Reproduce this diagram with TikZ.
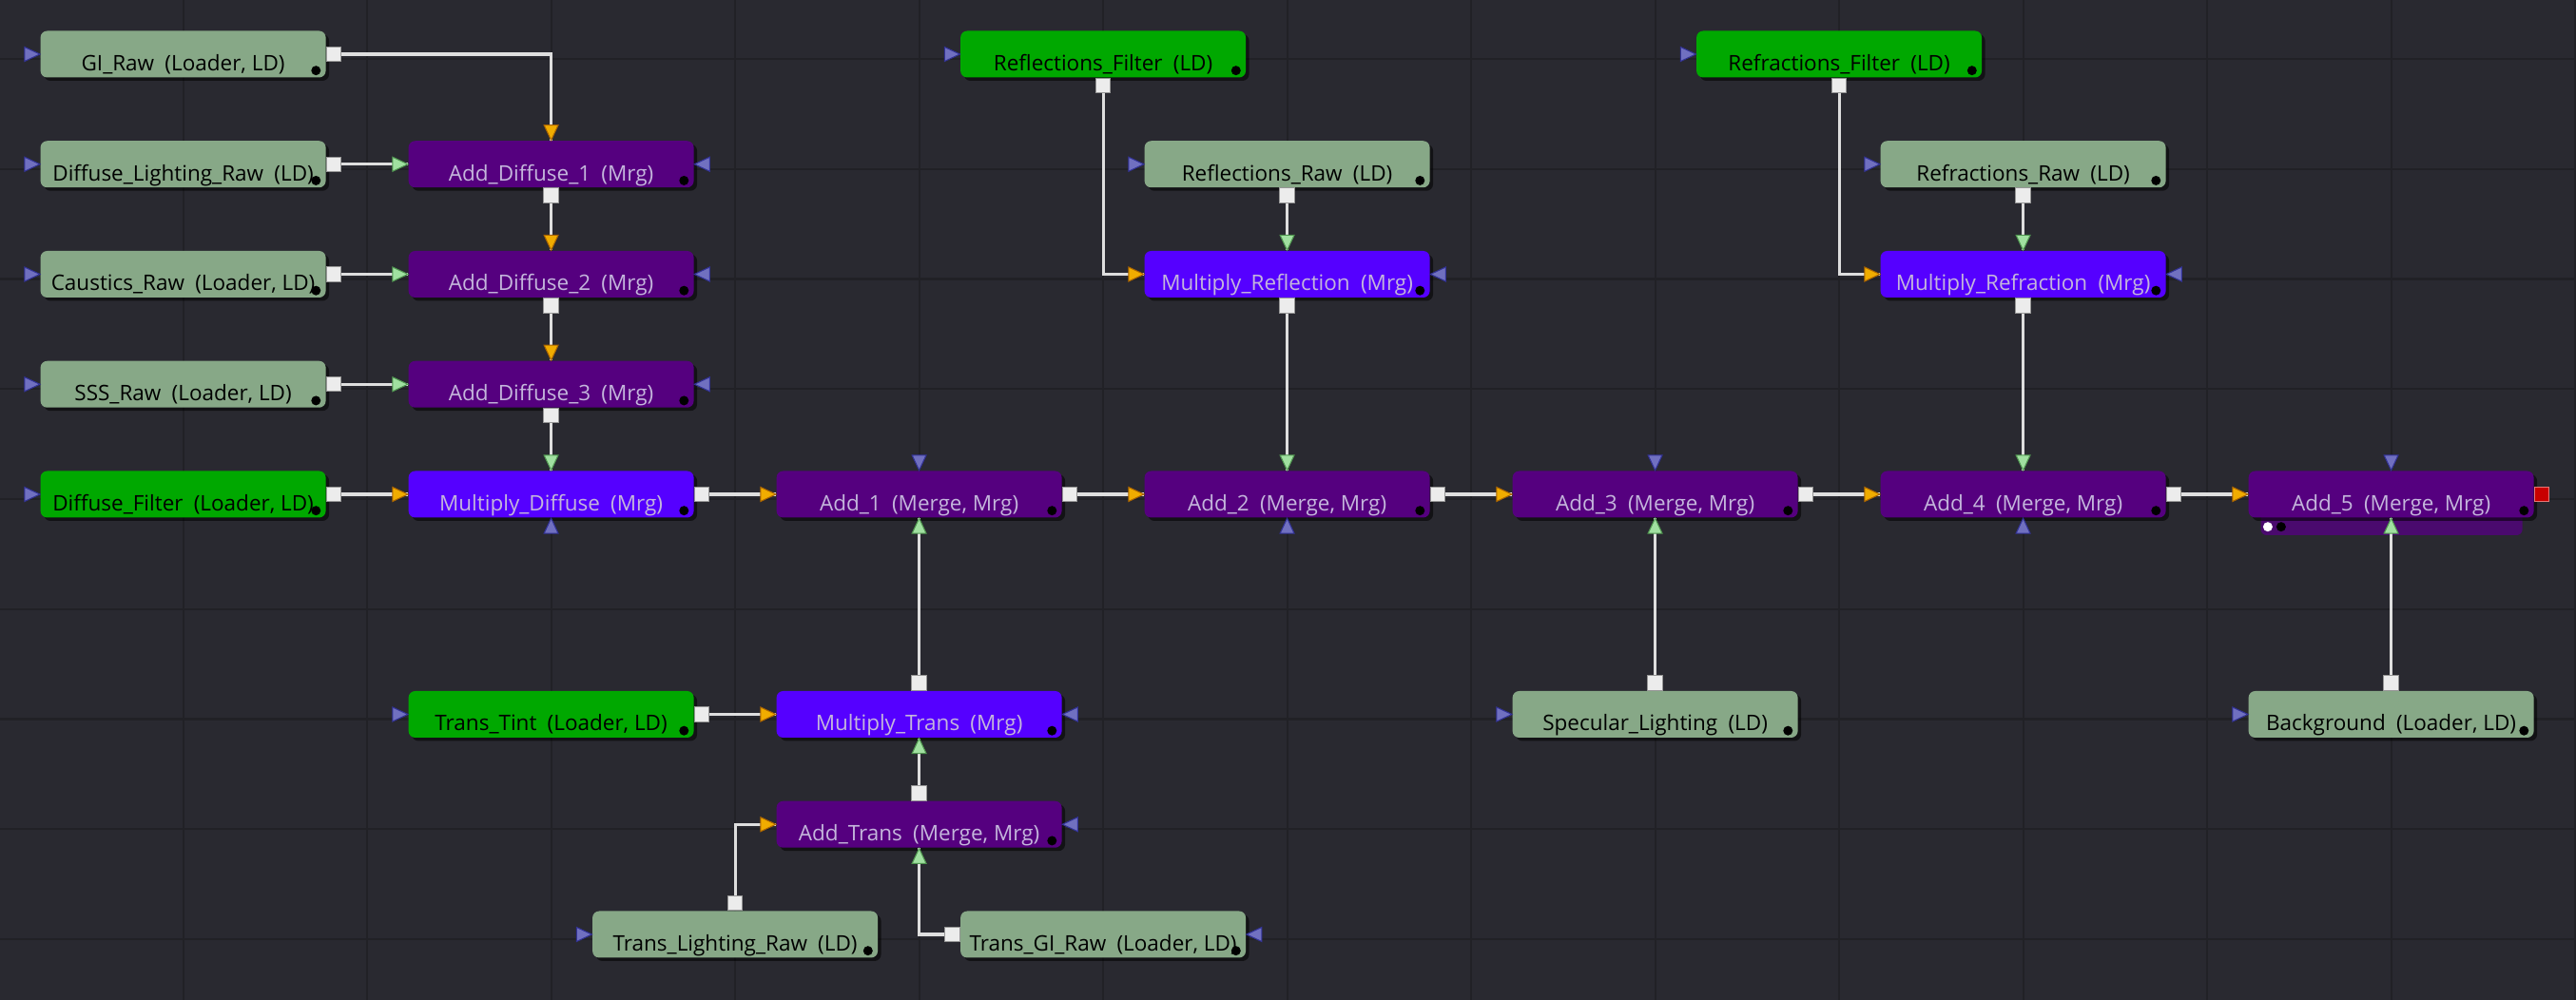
\documentclass[tikz,border=0pt]{standalone}
\usepackage{fontspec}
\setmainfont{Open Sans}
\usetikzlibrary{calc,shadows}

\definecolor{bgcol}{RGB}{41,41,48}
\definecolor{gridcol}{RGB}{33,33,38}
\definecolor{loadcol}{RGB}{135,168,135}
\definecolor{filtcol}{RGB}{0,168,0}
\definecolor{mrgcol}{RGB}{85,0,127}
\definecolor{multcol}{RGB}{85,0,255}
\definecolor{mrgtext}{RGB}{196,182,220}
\definecolor{wirecol}{RGB}{222,222,222}
\definecolor{sqcol}{RGB}{236,236,236}
\definecolor{sqedge}{RGB}{150,150,150}
\definecolor{fgcol}{RGB}{160,224,160}
\definecolor{fgedge}{RGB}{80,150,80}
\definecolor{bgincol}{RGB}{240,172,0}
\definecolor{bginedge}{RGB}{170,100,0}
\definecolor{maskcol}{RGB}{112,112,192}
\definecolor{maskedge}{RGB}{50,50,150}
\definecolor{stripcol}{RGB}{74,10,110}
\definecolor{redsq}{RGB}{200,0,0}
\definecolor{rededge}{RGB}{230,120,120}

\newcommand{\inport}[3]{\filldraw[#3, shift={(#1)}, rotate=#2] (0,0) -- (-0.16cm,0.075cm) -- (-0.16cm,-0.075cm) -- cycle;}
\newcommand{\outport}[3][outsq]{\filldraw[#1, shift={(#2)}, rotate=#3] (0,-0.077cm) rectangle (0.155cm,0.077cm);}
\newcommand{\nm}[2]{#1\hspace{0.5em}(#2)}

\begin{document}
\begin{tikzpicture}[x=1.935cm, y=1.1575cm,
    tool/.style={rounded corners=0.07cm, minimum width=3cm, inner xsep=0pt, inner ysep=0pt,
        text height=0.42cm, text depth=0.07cm, font=\fontsize{6.4}{7}\selectfont,
        drop shadow={shadow xshift=0.035cm, shadow yshift=-0.035cm, fill=black, opacity=0.55}},
    loader/.style={tool, fill=loadcol, text=black},
    filter/.style={tool, fill=filtcol, text=black},
    merge/.style={tool, fill=mrgcol, text=mrgtext},
    mult/.style={tool, fill=multcol, text=mrgtext},
    wire/.style={draw=wirecol, line width=0.9pt},
    gridline/.style={draw=gridcol, line width=0.6pt},
    outsq/.style={fill=sqcol, draw=sqedge, line width=0.3pt},
    redport/.style={fill=redsq, draw=rededge, line width=0.3pt},
    fgport/.style={fill=fgcol, draw=fgedge, line width=0.3pt},
    bgport/.style={fill=bgincol, draw=bginedge, line width=0.3pt},
    mkport/.style={fill=maskcol, draw=maskedge, line width=0.3pt}]

    \useasboundingbox (-1.926cm,0.57cm) rectangle ++(27.09cm,-10.52cm);
    \fill[bgcol] (-1.926cm,0.57cm) rectangle ++(27.09cm,-10.52cm);   % canvas
    \foreach \j in {0,...,13} \draw[gridline] (\j,0) ++(0,0.57cm) -- ++(0,-10.52cm);
    \foreach \k in {0,...,8} \draw[gridline] (0,-\k) ++(-1.926cm,-0.05cm) -- ++(27.09cm,0);

    % extra strip under Add_5
    \fill[stripcol, rounded corners=0.06cm] ($(12,-4)+(-1.37cm,-0.2cm)$) -- ($(12,-4)+(-1.37cm,-0.43cm)$)
        -- ($(12,-4)+(1.38cm,-0.43cm)$) -- ($(12,-4)+(1.38cm,-0.2cm)$) -- cycle;

    % diffuse branch
    \node[loader] (gi) at (0,0) {\nm{GI\_Raw}{Loader, LD}};
    \node[loader] (dlight) at (0,-1) {\nm{Diffuse\_Lighting\_Raw}{LD}};
    \node[loader] (caus) at (0,-2) {\nm{Caustics\_Raw}{Loader, LD}};
    \node[loader] (sss) at (0,-3) {\nm{SSS\_Raw}{Loader, LD}};
    \node[filter] (dfilt) at (0,-4) {\nm{Diffuse\_Filter}{Loader, LD}};
    \node[merge] (ad1) at (2,-1) {\nm{Add\_Diffuse\_1}{Mrg}};
    \node[merge] (ad2) at (2,-2) {\nm{Add\_Diffuse\_2}{Mrg}};
    \node[merge] (ad3) at (2,-3) {\nm{Add\_Diffuse\_3}{Mrg}};
    \node[mult] (mdiff) at (2,-4) {\nm{Multiply\_Diffuse}{Mrg}};

    % main line
    \node[merge] (add1) at (4,-4) {\nm{Add\_1}{Merge, Mrg}};
    \node[merge] (add2) at (6,-4) {\nm{Add\_2}{Merge, Mrg}};
    \node[merge] (add3) at (8,-4) {\nm{Add\_3}{Merge, Mrg}};
    \node[merge] (add4) at (10,-4) {\nm{Add\_4}{Merge, Mrg}};
    \node[merge] (add5) at (12,-4) {\nm{Add\_5}{Merge, Mrg}};

    % reflections / refractions
    \node[filter] (rflfilt) at (5,0) {\nm{Reflections\_Filter}{LD}};
    \node[loader] (rflraw) at (6,-1) {\nm{Reflections\_Raw}{LD}};
    \node[mult] (mrfl) at (6,-2) {\nm{Multiply\_Reflection}{Mrg}};
    \node[filter] (rfrfilt) at (9,0) {\nm{Refractions\_Filter}{LD}};
    \node[loader] (rfrraw) at (10,-1) {\nm{Refractions\_Raw}{LD}};
    \node[mult] (mrfr) at (10,-2) {\nm{Multiply\_Refraction}{Mrg}};

    % translucency, specular, background
    \node[filter] (ttint) at (2,-6) {\nm{Trans\_Tint}{Loader, LD}};
    \node[mult] (mtrans) at (4,-6) {\nm{Multiply\_Trans}{Mrg}};
    \node[merge] (atrans) at (4,-7) {\nm{Add\_Trans}{Merge, Mrg}};
    \node[loader] (tlight) at (3,-8) {\nm{Trans\_Lighting\_Raw}{LD}};
    \node[loader] (tgi) at (5,-8) {\nm{Trans\_GI\_Raw}{Loader, LD}};
    \node[loader] (spec) at (8,-6) {\nm{Specular\_Lighting}{LD}};
    \node[loader] (bgnd) at (12,-6) {\nm{Background}{Loader, LD}};

    \foreach \n in {gi,dlight,caus,sss,dfilt,ad1,ad2,ad3,mdiff,add1,add2,add3,add4,add5,
        rflfilt,rflraw,mrfl,rfrfilt,rfrraw,mrfr,ttint,mtrans,atrans,tlight,tgi,spec,bgnd}
        \fill[black] ($(\n.south east)+(-0.11cm,0.08cm)$) circle (0.05cm);
    \fill[white] ($(add5.south west)+(0.21cm,-0.09cm)$) circle (0.05cm);
    \fill[black] ($(add5.south west)+(0.35cm,-0.09cm)$) circle (0.05cm);

    % wires
    \draw[wire] (gi.east) -| (ad1.north);
    \draw[wire] (dlight.east) -- (ad1.west);
    \draw[wire] (caus.east) -- (ad2.west);
    \draw[wire] (sss.east) -- (ad3.west);
    \draw[wire] (dfilt.east) -- (mdiff.west);
    \draw[wire] (ad1.south) -- (ad2.north);
    \draw[wire] (ad2.south) -- (ad3.north);
    \draw[wire] (ad3.south) -- (mdiff.north);
    \draw[wire] (mdiff.east) -- (add1.west);
    \draw[wire] (add1.east) -- (add2.west);
    \draw[wire] (add2.east) -- (add3.west);
    \draw[wire] (add3.east) -- (add4.west);
    \draw[wire] (add4.east) -- (add5.west);
    \draw[wire] (rflfilt.south) |- (mrfl.west);
    \draw[wire] (rflraw.south) -- (mrfl.north);
    \draw[wire] (mrfl.south) -- (add2.north);
    \draw[wire] (rfrfilt.south) |- (mrfr.west);
    \draw[wire] (rfrraw.south) -- (mrfr.north);
    \draw[wire] (mrfr.south) -- (add4.north);
    \draw[wire] (ttint.east) -- (mtrans.west);
    \draw[wire] (mtrans.north) -- (add1.south);
    \draw[wire] (atrans.north) -- (mtrans.south);
    \draw[wire] (tlight.north) |- (atrans.west);
    \draw[wire] (tgi.west) -| (atrans.south);
    \draw[wire] (spec.north) -- (add3.south);
    \draw[wire] (bgnd.north) -- (add5.south);

    % loader inputs and outputs
    \foreach \n in {gi,dlight,caus,sss,dfilt,rflfilt,rflraw,rfrfilt,rfrraw,ttint,tlight,spec,bgnd}
        \inport{\n.west}{0}{mkport};
    \inport{tgi.east}{180}{mkport}
    \foreach \n in {gi,dlight,caus,sss,dfilt,ttint} \outport{\n.east}{0};
    \foreach \n in {rflfilt,rflraw,rfrfilt,rfrraw} \outport{\n.south}{-90};
    \foreach \n in {tlight,spec,bgnd} \outport{\n.north}{90};
    \outport{tgi.west}{180}

    % merge inputs and outputs
    \foreach \n in {ad1,ad2,ad3} {
        \inport{\n.north}{-90}{bgport}
        \inport{\n.west}{0}{fgport}
        \inport{\n.east}{180}{mkport}
        \outport{\n.south}{-90}
    }
    \inport{mdiff.north}{-90}{fgport}
    \inport{mdiff.west}{0}{bgport}
    \inport{mdiff.south}{90}{mkport}
    \outport{mdiff.east}{0}
    \foreach \n in {add1,add2,add3,add4,add5} {
        \inport{\n.west}{0}{bgport}
    }
    \foreach \n in {add1,add3,add5} {
        \inport{\n.north}{-90}{mkport}
        \inport{\n.south}{90}{fgport}
    }
    \foreach \n in {add2,add4} {
        \inport{\n.north}{-90}{fgport}
        \inport{\n.south}{90}{mkport}
    }
    \foreach \n in {add1,add2,add3,add4} \outport{\n.east}{0};
    \outport[redport]{add5.east}{0}
    \foreach \n in {mrfl,mrfr} {
        \inport{\n.west}{0}{bgport}
        \inport{\n.north}{-90}{fgport}
        \inport{\n.east}{180}{mkport}
        \outport{\n.south}{-90}
    }
    \foreach \n in {mtrans,atrans} {
        \inport{\n.west}{0}{bgport}
        \inport{\n.south}{90}{fgport}
        \inport{\n.east}{180}{mkport}
        \outport{\n.north}{90}
    }
\end{tikzpicture}
\end{document}
